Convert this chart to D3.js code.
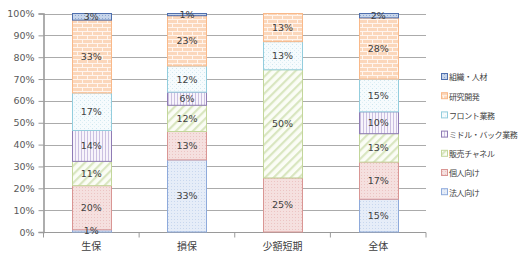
<!DOCTYPE html>
<html><head><meta charset="utf-8">
<script src="https://cdn.jsdelivr.net/npm/d3@7"></script>
<style>body{margin:0;background:#fff}svg{display:block}</style>
</head><body>
<svg id="c" width="520" height="257"></svg>
<script>
const categories = ["生保", "損保", "少額短期", "全体"];
const seriesNames = ["法人向け", "個人向け", "販売チャネル", "ミドル・バック業務", "フロント業務", "研究開発", "組織・人材"];
const houjin   = [1, 33, 0, 15];
const kojin    = [20, 13, 25, 17];
const hanbai   = [11, 12, 50, 13];
const middle   = [14, 6, 0, 10];
const front    = [17, 12, 13, 15];
const kenkyu   = [33, 23, 13, 28];
const soshiki  = [3, 1, 0, 2];
const yTicks = [0, 0.1, 0.2, 0.3, 0.4, 0.5, 0.6, 0.7, 0.8, 0.9, 1.0];

const seriesValues = [houjin, kojin, hanbai, middle, front, kenkyu, soshiki];
const table = categories.map((c, i) => {
  const o = {cat: c};
  seriesNames.forEach((s, j) => o[s] = seriesValues[j][i]);
  return o;
});

const svg = d3.select("#c");
const W = 520, H = 257;
const m = {l: 43.5, r: 94, t: 13.5, b: 25};
const x = d3.scaleBand().domain(categories).range([m.l, W - m.r]).paddingInner(0.59).paddingOuter(0.295);
const y = d3.scaleLinear().domain([0, 1]).range([H - m.b, m.t]);

const styles = {
  "法人向け": {border: "#8eaadb", id: "p0"},
  "個人向け": {border: "#d99694", id: "p1"},
  "販売チャネル": {border: "#c3d69b", id: "p2"},
  "ミドル・バック業務": {border: "#8f7cb5", id: "p3"},
  "フロント業務": {border: "#93cddd", id: "p4"},
  "研究開発": {border: "#f9b98a", id: "p5"},
  "組織・人材": {border: "#4f6fae", id: "p6"}
};

const defs = svg.append("defs");
let p = defs.append("pattern").attr("id", "p0").attr("patternUnits", "userSpaceOnUse").attr("width", 3).attr("height", 3);
p.append("rect").attr("width", 3).attr("height", 3).attr("fill", "#e6edf8");
p.append("rect").attr("x", 0).attr("y", 0).attr("width", 1).attr("height", 1).attr("fill", "#c8d7ee");
p = defs.append("pattern").attr("id", "p1").attr("patternUnits", "userSpaceOnUse").attr("width", 3).attr("height", 3);
p.append("rect").attr("width", 3).attr("height", 3).attr("fill", "#f5e0df");
p.append("rect").attr("x", 1).attr("y", 1).attr("width", 1).attr("height", 1).attr("fill", "#ecc4c3");
p = defs.append("pattern").attr("id", "p2").attr("patternUnits", "userSpaceOnUse").attr("width", 6).attr("height", 6).attr("patternTransform", "rotate(45)");
p.append("rect").attr("width", 6).attr("height", 6).attr("fill", "#fbfdf6");
p.append("rect").attr("x", 0).attr("y", 0).attr("width", 2.2).attr("height", 6).attr("fill", "#d9e6c0");
p = defs.append("pattern").attr("id", "p3").attr("patternUnits", "userSpaceOnUse").attr("width", 3).attr("height", 3);
p.append("rect").attr("width", 3).attr("height", 3).attr("fill", "#f7f4fb");
p.append("rect").attr("x", 0).attr("y", 0).attr("width", 1).attr("height", 3).attr("fill", "#cbc0e1");
p = defs.append("pattern").attr("id", "p4").attr("patternUnits", "userSpaceOnUse").attr("width", 4).attr("height", 4);
p.append("rect").attr("width", 4).attr("height", 4).attr("fill", "#f6fbfd");
p.append("rect").attr("x", 0).attr("y", 0).attr("width", 1).attr("height", 1).attr("fill", "#cfe8f0");
p.append("rect").attr("x", 2).attr("y", 2).attr("width", 1).attr("height", 1).attr("fill", "#deeff5");
p = defs.append("pattern").attr("id", "p5").attr("patternUnits", "userSpaceOnUse").attr("width", 10).attr("height", 8);
p.append("rect").attr("width", 10).attr("height", 8).attr("fill", "#fbd7bb");
p.append("rect").attr("x", 0).attr("y", 3).attr("width", 10).attr("height", 1).attr("fill", "#fff5ee");
p.append("rect").attr("x", 0).attr("y", 7).attr("width", 10).attr("height", 1).attr("fill", "#fff5ee");
p.append("rect").attr("x", 2).attr("y", 0).attr("width", 1).attr("height", 3).attr("fill", "#fff5ee");
p.append("rect").attr("x", 7).attr("y", 4).attr("width", 1).attr("height", 3).attr("fill", "#fff5ee");
p = defs.append("pattern").attr("id", "p6").attr("patternUnits", "userSpaceOnUse").attr("width", 3).attr("height", 3);
p.append("rect").attr("width", 3).attr("height", 3).attr("fill", "#c7d5ea");
p.append("rect").attr("x", 0).attr("y", 0).attr("width", 1).attr("height", 1).attr("fill", "#8ea8d3");

svg.append("g").selectAll("line").data(yTicks.slice(1)).join("line")
  .attr("x1", m.l).attr("x2", W - m.r)
  .attr("y1", d => Math.round(y(d)) + 0.5).attr("y2", d => Math.round(y(d)) + 0.5)
  .attr("stroke", "#ababab").attr("stroke-width", 1);

const yAxis = d3.axisLeft(y).tickValues(yTicks).tickFormat(d3.format(".0%")).tickSize(5).tickPadding(4);
const gy = svg.append("g").attr("transform", `translate(${m.l},0)`).call(yAxis);
gy.select(".domain").attr("stroke", "#9a9a9a").attr("stroke-width", 1.6);
gy.selectAll(".tick line").attr("stroke", "#9a9a9a");
gy.selectAll(".tick text").attr("fill", "#595959").style("font-family", "DejaVu Sans, Verdana, sans-serif").style("font-size", "9.5px");

const gx = svg.append("g").attr("transform", `translate(0,${Math.round(y(0)) + 0.5})`);
gx.append("line").attr("x1", m.l).attr("x2", W - m.r).attr("stroke", "#9a9a9a");
const step = x.step();
gx.selectAll("line.tk").data(d3.range(categories.length + 1)).join("line").attr("class", "tk")
  .attr("x1", i => m.l + i * step).attr("x2", i => m.l + i * step).attr("y1", 0).attr("y2", 5).attr("stroke", "#9a9a9a");
gx.selectAll("text").data(categories).join("text")
  .attr("x", d => x(d) + x.bandwidth() / 2).attr("y", 17).attr("text-anchor", "middle")
  .attr("fill", "#404040").style("font-family", "Noto Sans CJK JP, sans-serif").style("font-size", "10px").text(d => d);

const stack = d3.stack().keys(seriesNames).offset(d3.stackOffsetExpand);
const stacked = stack(table);
const gs = svg.append("g");
stacked.forEach(s => {
  const st = styles[s.key];
  const g = gs.append("g");
  s.forEach(d => {
    const v = d.data[s.key];
    if (!v) return;
    const x0 = Math.round(x(d.data.cat)) + 0.5;
    const y0 = y(d[1]), y1 = y(d[0]);
    g.append("rect").attr("x", x0).attr("y", y0).attr("width", Math.round(x.bandwidth()))
      .attr("height", y1 - y0).attr("fill", `url(#${st.id})`).attr("stroke", st.border).attr("stroke-width", 1);
  });
});
stacked.forEach(s => {
  s.forEach(d => {
    const v = d.data[s.key];
    if (!v) return;
    gs.append("text").attr("x", x(d.data.cat) + x.bandwidth() / 2).attr("y", (y(d[0]) + y(d[1])) / 2 + 3.5)
      .attr("text-anchor", "middle").attr("fill", "#404040")
      .style("font-family", "DejaVu Sans, Verdana, sans-serif").style("font-size", "9.5px")
      .text(v + "%");
  });
});

const legendOrder = seriesNames.slice().reverse();
const lg = svg.append("g").attr("transform", "translate(441,77)");
legendOrder.forEach((name, i) => {
  const st = styles[name];
  const gi = lg.append("g").attr("transform", `translate(0,${i * 19.2})`);
  gi.append("rect").attr("x", 0.5).attr("y", -3.5).attr("width", 6).attr("height", 6)
    .attr("fill", `url(#${st.id})`).attr("stroke", st.border);
  gi.append("text").attr("x", 8).attr("y", 3.3).attr("fill", "#404040")
    .style("font-family", "Noto Sans CJK JP, sans-serif").style("font-size", "8px")
    .style("letter-spacing", "-0.4px").text(name);
});
</script>
</body></html>
